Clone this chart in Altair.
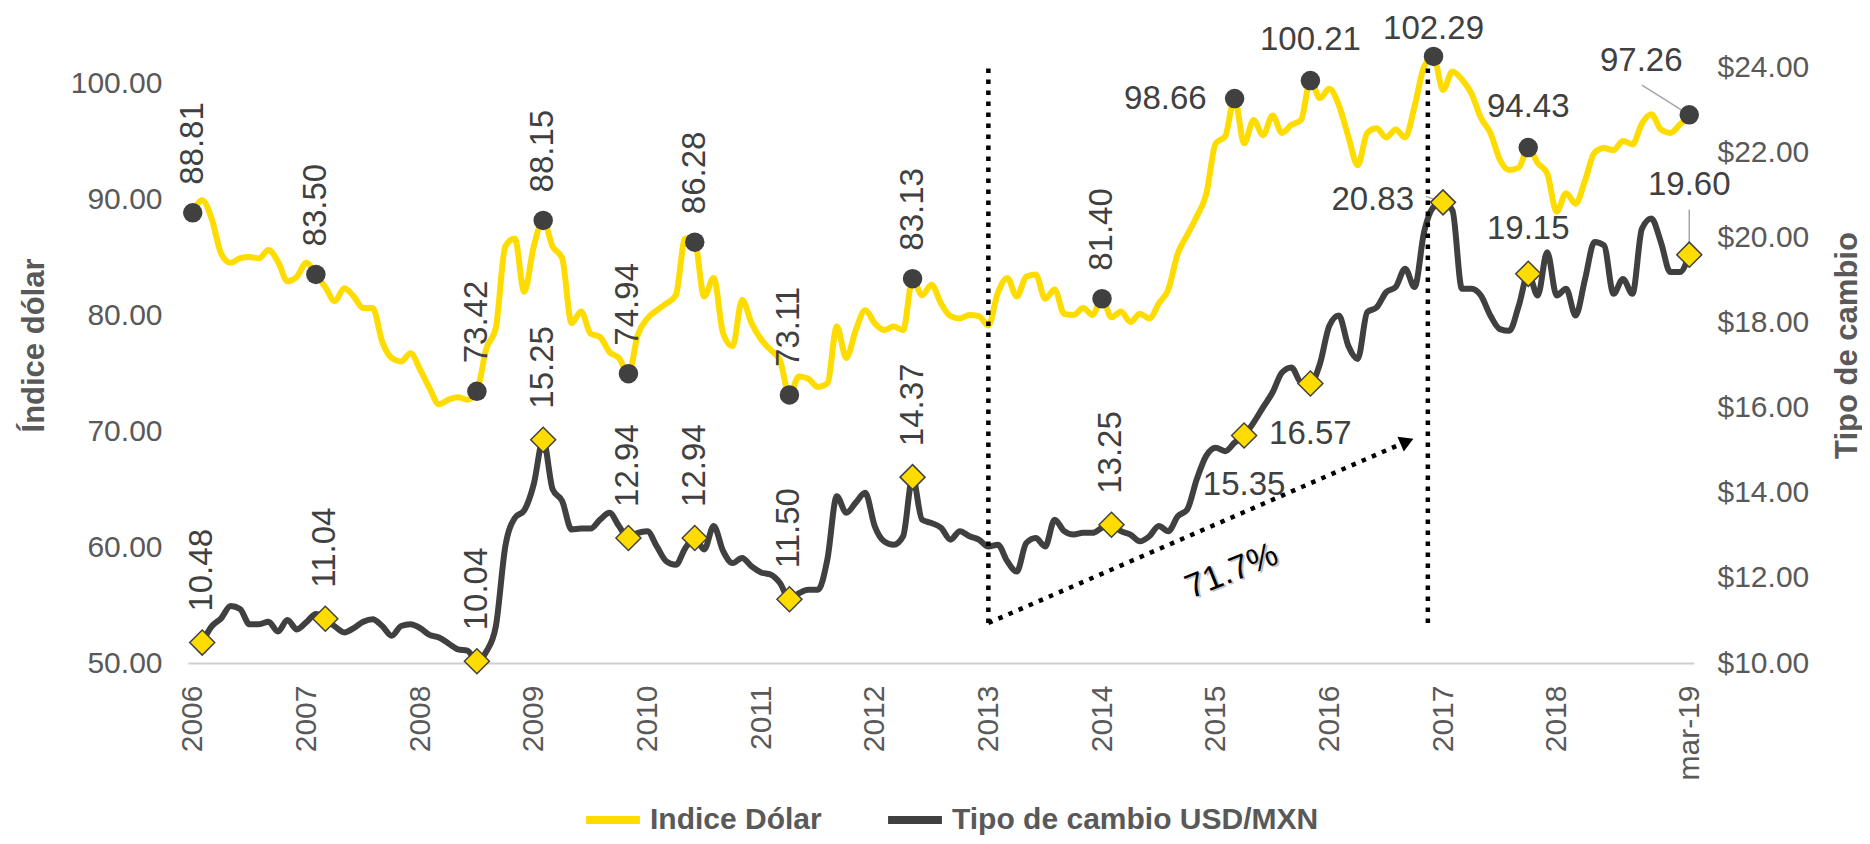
import altair as alt
import pandas as pd

# ---------------- data (monthly, index 0 = 2006-01 ... 158 = 2019-03) ----------------
indice_dolar = [
    88.81, 89.9, 88.3, 85.3, 84.5, 84.9, 85.0, 84.9, 85.6, 84.6, 82.9, 83.3, 84.5, 83.50,
    82.4, 81.2, 82.3, 81.6, 80.6, 80.6, 77.7, 76.3, 76.0, 76.7, 75.3, 73.7, 72.3, 72.7,
    72.9, 72.7, 73.42, 77.1, 78.9, 85.9, 86.6, 82.0, 85.9, 88.15, 85.9, 84.9, 79.3, 80.3,
    78.4, 78.1, 76.8, 76.3, 74.94, 78.3, 79.7, 80.4, 81.0, 81.7, 86.6, 86.28, 81.6, 83.2,
    78.4, 77.3, 81.3, 79.3, 77.9, 77.0, 76.1, 73.11, 74.7, 74.5, 73.8, 74.1, 79.0, 76.3,
    78.7, 80.4, 79.3, 78.7, 79.0, 78.7, 83.13, 81.7, 82.6, 81.0, 79.9, 79.7, 80.0, 79.9,
    79.1, 81.9, 83.2, 81.6, 83.3, 83.5, 81.4, 82.2, 80.1, 80.0, 80.6, 80.0, 81.40, 79.8,
    80.3, 79.4, 80.1, 79.7, 81.0, 82.2, 85.3, 86.9, 88.5, 90.4, 94.8, 95.4, 98.66, 94.8,
    96.8, 95.5, 97.2, 95.7, 96.4, 96.8, 100.21, 98.7, 99.5, 98.1, 95.4, 92.9, 95.7, 96.1,
    95.3, 96.0, 95.3, 98.0, 101.4, 102.29, 99.4, 101.0, 100.3, 99.1, 97.0, 95.7, 93.4, 92.5,
    92.7, 94.43, 93.1, 92.2, 88.9, 90.5, 89.6, 91.6, 94.0, 94.4, 94.2, 95.0, 94.7, 96.5,
    97.3, 96.0, 95.7, 96.4, 97.26,
]
tipo_cambio = [
    None, 10.48, 10.86, 11.05, 11.34, 11.27, 10.91, 10.91, 10.97, 10.74, 11.01, 10.79, 10.96,
    11.15, 11.04, 10.86, 10.72, 10.82, 10.97, 11.03, 10.87, 10.64, 10.87, 10.91, 10.82, 10.66,
    10.60, 10.46, 10.32, 10.29, 10.04, 10.27, 10.86, 12.74, 13.41, 13.59, 14.20, 15.25, 14.08,
    13.81, 13.14, 13.16, 13.16, 13.37, 13.53, 13.22, 12.94, 13.06, 13.10, 12.74, 12.39, 12.31,
    12.70, 12.94, 12.67, 13.22, 12.63, 12.35, 12.47, 12.27, 12.13, 12.08, 11.88, 11.50, 11.64,
    11.72, 11.72, 12.43, 13.92, 13.53, 13.77, 14.00, 13.22, 12.86, 12.78, 12.98, 14.37, 13.37,
    13.29, 13.18, 12.90, 13.10, 12.98, 12.90, 12.74, 12.78, 12.39, 12.15, 12.82, 12.94, 12.74,
    13.37, 13.10, 13.02, 13.06, 13.06, 13.18, 13.25, 13.10, 13.02, 12.86, 12.98, 13.22, 13.10,
    13.45, 13.61, 14.32, 14.87, 15.06, 14.98, 15.18, 15.35, 15.65, 16.01, 16.36, 16.83, 16.95,
    16.60, 16.57, 17.03, 17.93, 18.17, 17.46, 17.15, 18.25, 18.36, 18.72, 18.84, 19.27, 18.84,
    20.13, 20.72, 20.83, 20.64, 18.80, 18.80, 18.64, 18.17, 17.85, 17.81, 18.40, 19.15, 18.64,
    19.66, 18.64, 18.80, 18.17, 19.03, 19.90, 19.82, 18.68, 19.03, 18.68, 20.21, 20.45, 19.90,
    19.19, 19.19, 19.60,
]
months = list(range(len(indice_dolar)))

series_names = ["Indice Dólar", "Tipo de cambio USD/MXN"]

tick_months = [0, 12, 24, 36, 48, 60, 72, 84, 96, 108, 120, 132, 144, 158]
tick_labels = ["2006", "2007", "2008", "2009", "2010", "2011", "2012", "2013",
               "2014", "2015", "2016", "2017", "2018", "mar-19"]
left_ticks = [50, 60, 70, 80, 90, 100]
right_ticks = [10, 12, 14, 16, 18, 20, 22, 24]

# labelled points (months)
dxy_label_months = [0, 13, 30, 37, 46, 53, 63, 76, 96, 110, 118, 131, 141, 158]
mxn_label_months = [1, 14, 30, 37, 46, 53, 63, 76, 97, 111, 118, 132, 141, 158]
dxy_vertical = [0, 13, 30, 37, 46, 53, 63, 76, 96]
dxy_left = [110]
dxy_above = [118, 141]
dxy_above_top = [131]
dxy_above_left = [158]
mxn_vertical = [1, 14, 30, 37, 46, 53, 63, 76, 97]
mxn_below = [111, 118]
mxn_left = [132]
mxn_above = [141]
mxn_above_high = [158]

# annotations (month, exchange-rate value)
vline_months = [84, 130.4]
vline_low, vline_high = 10.94, 24.0
arrow_from = (84, 10.94)
arrow_to = (128.2, 15.21)
pct_text, pct_pos = "71.7%", (109.7, 12.15)

# ---------------- styling ----------------
YELLOW = "#FFDC00"
DARK = "#404040"
GRAY = "#595959"
FONT = "Liberation Sans, Arial, sans-serif"

df = pd.DataFrame({"m": months, "dxy": indice_dolar, "mxn": tipo_cambio})
df_mxn = df[df["mxn"].notna()]
df_dl = pd.DataFrame({"m": dxy_label_months, "v": [indice_dolar[m] for m in dxy_label_months]})
df_ml = pd.DataFrame({"m": mxn_label_months, "v": [tipo_cambio[m] for m in mxn_label_months]})
df_vl = pd.DataFrame({"m": vline_months, "y1": [vline_low] * 2, "y2": [vline_high] * 2})
df_arrow = pd.DataFrame({"x1": [arrow_from[0]], "y1": [arrow_from[1]],
                         "x2": [arrow_to[0]], "y2": [arrow_to[1]]})
df_pct = pd.DataFrame({"m": [pct_pos[0]], "v": [pct_pos[1]], "t": [pct_text]})

label_expr = ""
for m, t in zip(tick_months, tick_labels):
    label_expr += f"datum.value == {m} ? '{t}' : "
label_expr += "''"

XS = alt.Scale(domain=[-0.5, 158.5], nice=False, zero=False)
YLS = alt.Scale(domain=[50, 105], nice=False, zero=False)
YRS = alt.Scale(domain=[10, 25], nice=False, zero=False)

x_axis = alt.Axis(values=tick_months, labelExpr=label_expr, labelAngle=270, labelAlign="right",
                  labelBaseline="middle", labelPadding=22, labelFont=FONT, labelFontSize=30,
                  labelColor=GRAY, ticks=False, grid=False, domainColor="#D0D0D0", domainWidth=2,
                  title=None, labelOverlap=False, labelFlush=False, labelBound=False)
left_axis = alt.Axis(values=left_ticks, format=".2f", labelFont=FONT, labelFontSize=30,
                     labelColor=GRAY, labelPadding=26, ticks=False, grid=False, domain=False,
                     title="Índice dólar", titleFont=FONT, titleFontWeight="bold", titleFontSize=31,
                     titleColor=GRAY, titleAngle=270, titleX=-154, titleY=320,
                     titleAlign="center", titleBaseline="middle", labelOverlap=False)
right_axis = alt.Axis(values=right_ticks, format="$.2f", orient="right", labelFont=FONT,
                      labelFontSize=30, labelColor=GRAY, labelPadding=23, ticks=False, grid=False,
                      domain=False, title="Tipo de cambio", titleFont=FONT, titleFontWeight="bold",
                      titleFontSize=31, titleColor=GRAY, titleAngle=270, titleX=153, titleY=320,
                      titleAlign="center", titleBaseline="middle", labelOverlap=False)

legend = alt.Legend(title=None, orient="none", legendX=394, legendY=764, direction="horizontal",
                    symbolType="stroke", symbolStrokeWidth=8, symbolSize=2900,
                    labelFont=FONT, labelFontWeight="bold", labelFontSize=30, labelColor=GRAY,
                    columnPadding=50, labelOffset=6, labelLimit=0)
color = alt.Color("serie:N", scale=alt.Scale(domain=series_names, range=[YELLOW, DARK]), legend=legend)

xn = alt.X("m:Q", scale=XS, axis=x_axis)
yl = alt.Y("v:Q", scale=YLS, axis=left_axis)
yr = alt.Y("v:Q", scale=YRS, axis=right_axis)

# ---- Índice dólar (left axis) ----
dxy_line = alt.Chart(df).transform_calculate(serie="'Indice Dólar'").mark_line(
    strokeWidth=6, interpolate="monotone").encode(
    x=xn, y=alt.Y("dxy:Q", scale=YLS, axis=left_axis), color=color)

dxy_pts = alt.Chart(df_dl).mark_point(shape="circle", filled=True, size=380, color=DARK,
                                      opacity=1).encode(x=xn, y=yl)


def lbl(data, months_sel, y, **kw):
    return alt.Chart(data).transform_filter(
        alt.FieldOneOfPredicate(field="m", oneOf=months_sel)).mark_text(
        font=FONT, fontSize=33, color=DARK, **kw).encode(
        x=xn, y=y, text=alt.Text("v:Q", format=".2f"))


dxy_t1 = lbl(df_dl, dxy_vertical, yl, angle=270, align="left", baseline="middle", dx=28)
dxy_t2 = lbl(df_dl, dxy_left, yl, align="right", baseline="middle", dx=-28)
dxy_t3 = lbl(df_dl, dxy_above, yl, align="center", baseline="alphabetic", dy=-31)
dxy_t3b = lbl(df_dl, dxy_above_top, yl, align="center", baseline="alphabetic", dy=-17)
dxy_t4 = lbl(df_dl, dxy_above_left, yl, align="center", baseline="alphabetic", dx=-48, dy=-44)
dxy_leader = alt.Chart(df_dl).transform_filter(
    alt.FieldOneOfPredicate(field="m", oneOf=dxy_above_left)).transform_calculate(
    m2="datum.m - 5.0", v2="datum.v + 2.55").mark_rule(color="#A6A6A6", strokeWidth=1.5).encode(
    x=xn, x2="m2:Q", y=yl, y2="v2:Q")

left = alt.layer(dxy_line, dxy_leader, dxy_pts, dxy_t1, dxy_t2, dxy_t3, dxy_t3b, dxy_t4)

# ---- Tipo de cambio (right axis) ----
mxn_line = alt.Chart(df_mxn).transform_calculate(serie="'Tipo de cambio USD/MXN'").mark_line(
    strokeWidth=6, interpolate="monotone").encode(
    x=xn, y=alt.Y("mxn:Q", scale=YRS, axis=right_axis), color=color)

mxn_leader1 = alt.Chart(df_ml).transform_filter(
    alt.FieldOneOfPredicate(field="m", oneOf=mxn_left)).transform_calculate(
    m2="datum.m - 1.8", v2="datum.v + 0.14").mark_rule(color="#A6A6A6", strokeWidth=1.5).encode(
    x=xn, x2="m2:Q", y=yr, y2="v2:Q")
mxn_leader2 = alt.Chart(df_ml).transform_filter(
    alt.FieldOneOfPredicate(field="m", oneOf=mxn_above_high)).transform_calculate(
    v2="datum.v + 1.06").mark_rule(color="#A6A6A6", strokeWidth=1.5).encode(
    x=xn, y=yr, y2="v2:Q")
mxn_pts = alt.Chart(df_ml).mark_point(shape="diamond", filled=True, size=625, fill=YELLOW,
                                      stroke=DARK, strokeWidth=1.5, opacity=1).encode(x=xn, y=yr)
mxn_t1 = lbl(df_ml, mxn_vertical, yr, angle=270, align="left", baseline="middle", dx=31)
mxn_t2 = lbl(df_ml, mxn_below, yr, align="center", baseline="alphabetic", dy=60)
mxn_t3 = lbl(df_ml, mxn_left, yr, align="right", baseline="middle", dx=-29, dy=-2)
mxn_t4 = lbl(df_ml, mxn_above, yr, align="center", baseline="alphabetic", dy=-35)
mxn_t5 = lbl(df_ml, mxn_above_high, yr, align="center", baseline="alphabetic", dy=-60)

xa = alt.X("x1:Q", scale=XS, axis=x_axis)
vlines = alt.Chart(df_vl).mark_rule(color="black", strokeWidth=4.5, strokeDash=[4.5, 6.5],
                                    strokeCap="butt").encode(
    x=xn, y=alt.Y("y1:Q", scale=YRS, axis=right_axis), y2="y2:Q")
arrow = alt.Chart(df_arrow).mark_rule(color="black", strokeWidth=4.5, strokeDash=[4.5, 6.5],
                                      strokeCap="butt").encode(
    x=xa, x2="x2:Q", y=alt.Y("y1:Q", scale=YRS, axis=right_axis), y2="y2:Q")
arrow_head = alt.Chart(df_arrow).mark_point(shape="triangle-up", angle=66.6, size=260,
                                            filled=True, color="black", opacity=1).encode(
    x=alt.X("x2:Q", scale=XS, axis=x_axis), y=alt.Y("y2:Q", scale=YRS, axis=right_axis))
pct_shadow = alt.Chart(df_pct).mark_text(font=FONT, fontSize=34, color="#9A9A9A", angle=338,
                                         align="center", baseline="middle", dx=1.5, dy=2,
                                         opacity=0.6).encode(x=xn, y=yr, text="t:N")
pct = alt.Chart(df_pct).mark_text(font=FONT, fontSize=34, color="black", angle=338,
                                  align="center", baseline="middle").encode(x=xn, y=yr, text="t:N")

right = alt.layer(mxn_line, mxn_leader1, mxn_leader2, mxn_pts, mxn_t1, mxn_t2, mxn_t3, mxn_t4,
                  mxn_t5, vlines, arrow, arrow_head, pct_shadow, pct)

chart = alt.layer(left, right).resolve_scale(y="independent").properties(
    width=1506, height=638,
    autosize=alt.AutoSizeParams(type="none"),
    padding={"left": 180, "top": 17, "right": 168, "bottom": 173},
    background="white",
).configure_view(stroke=None)

chart.save("out.html", embed_options={"renderer": "svg", "actions": False})
